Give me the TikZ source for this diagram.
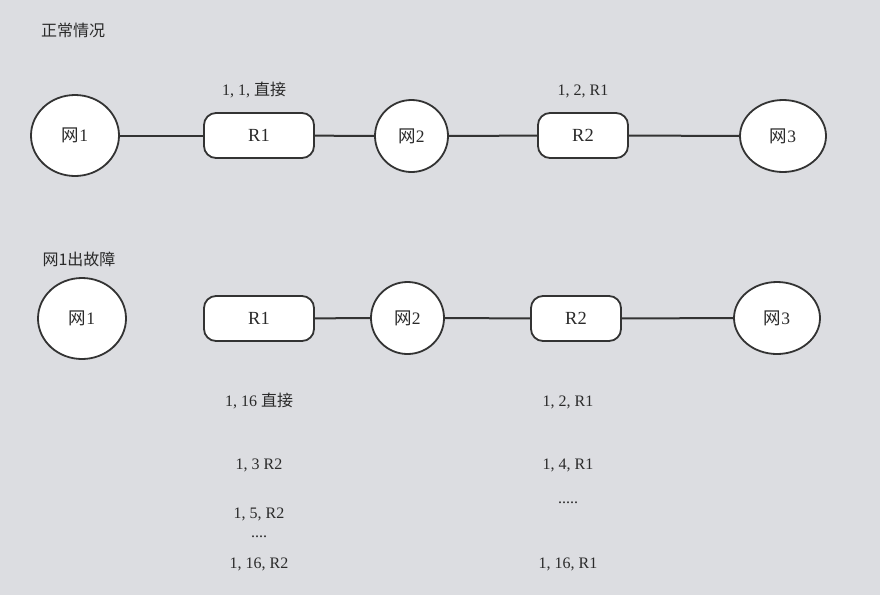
\documentclass[tikz,border=0pt]{standalone}
\usepackage{fontspec}
\setmainfont{Liberation Serif}
\newfontfamily\cjk{Noto Sans CJK SC}
\usetikzlibrary{shapes.geometric}
\definecolor{bg}{HTML}{DCDDE1}
\definecolor{ink}{HTML}{333333}
\definecolor{txt}{HTML}{2A2A2A}
\tikzset{
  net/.style={ellipse, draw=ink, line width=1.8pt, fill=white, inner sep=0pt, text=txt, font=\fontsize{17.5}{20}\selectfont},
  router/.style={rectangle, rounded corners=12pt, draw=ink, line width=1.8pt, fill=white, inner sep=0pt, text=txt, font=\fontsize{18.5}{21}\selectfont, minimum height=45pt},
  link/.style={draw=ink, line width=2pt},
  lbl/.style={text=txt, font=\fontsize{16}{19}\selectfont, inner sep=0pt},
  ttl/.style={text=txt, font=\cjk\fontsize{16}{19}\selectfont, inner sep=0pt}
}
\begin{document}
\begin{tikzpicture}[x=1pt,y=-1pt]
\useasboundingbox (0,0) rectangle (880,595);
\fill[bg] (0,0) rectangle (880,595);

% top scenario
\node[ttl] (t1) at (73,30) {正常情况};
\node[net, minimum width=88pt, minimum height=81pt] (a1) at (75,135.5) {{\cjk 网}1};
\node[router, minimum width=110pt] (r1a) at (259,135.5) {R1};
\node[net, minimum width=73pt, minimum height=72pt] (a2) at (411.5,136) {{\cjk 网}2};
\node[router, minimum width=90pt] (r2a) at (583,135.5) {R2};
\node[net, minimum width=86pt, minimum height=72pt] (a3) at (783,136) {{\cjk 网}3};
\draw[link] (a1) -- (r1a);
\draw[link] (r1a) -- (a2);
\draw[link] (a2) -- (r2a);
\draw[link] (r2a) -- (a3);
\node[lbl] (la) at (254,90) {1, 1, {\cjk 直接}};
\node[lbl] (lb) at (583,91) {1, 2, R1};

% bottom scenario
\node[ttl] (t2) at (79,259) {网1出故障};
\node[net, minimum width=88pt, minimum height=81pt] (b1) at (82,318.5) {{\cjk 网}1};
\node[router, minimum width=110pt] (r1b) at (259,318.5) {R1};
\node[net, minimum width=73pt, minimum height=72pt] (b2) at (407.5,318) {{\cjk 网}2};
\node[router, minimum width=90pt] (r2b) at (576,318.5) {R2};
\node[net, minimum width=86pt, minimum height=72pt] (b3) at (777,318) {{\cjk 网}3};
\draw[link] (r1b) -- (b2);
\draw[link] (b2) -- (r2b);
\draw[link] (r2b) -- (b3);

\node[lbl] (c1) at (259,401) {1, 16 {\cjk 直接}};
\node[lbl] (c2) at (259,465) {1, 3 R2};
\node[lbl] (c3) at (259,514) {1, 5, R2};
\node[lbl] (c4) at (259,537) {....};
\node[lbl] (c5) at (259,564) {1, 16, R2};
\node[lbl] (d1) at (568,402) {1, 2, R1};
\node[lbl] (d2) at (568,465) {1, 4, R1};
\node[lbl] (d3) at (568,503) {.....};
\node[lbl] (d4) at (568,564) {1, 16, R1};
\end{tikzpicture}
\end{document}
